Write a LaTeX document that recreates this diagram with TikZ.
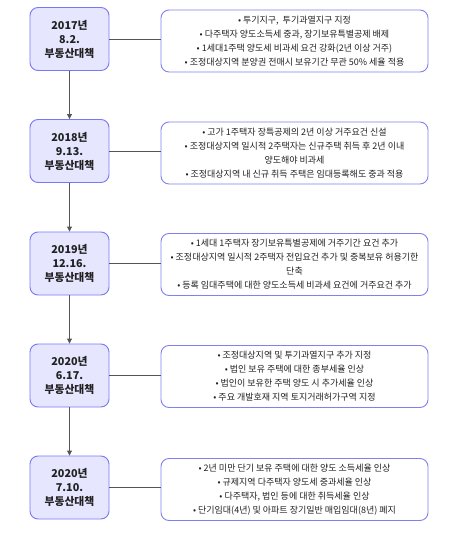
\documentclass[tikz,border=0pt]{standalone}
\usepackage{fontspec}
\setmainfont{Noto Sans CJK KR}
\usetikzlibrary{arrows.meta}
\definecolor{lbfill}{HTML}{E6E6FF}
\definecolor{lbdraw}{HTML}{7878F5}
\definecolor{rbdraw}{HTML}{8080F0}
\definecolor{txt}{HTML}{222222}
\definecolor{ln}{HTML}{555555}
\tikzset{
  yearbox/.style={draw=lbdraw, fill=lbfill, rounded corners=8bp, line width=0.9bp,
    minimum width=79bp, minimum height=63bp, align=center, text=txt,
    font=\fontsize{10.8bp}{14bp}\selectfont\bfseries, inner sep=0pt},
  descbox/.style={draw=rbdraw, fill=white, rounded corners=8bp, line width=0.9bp,
    minimum width=267bp, minimum height=62bp, align=center, text=txt,
    font=\fontsize{9bp}{14bp}\selectfont, inner sep=0pt},
  flow/.style={draw=ln, line width=0.9bp, -{Triangle[length=5bp,width=5bp]}},
  link/.style={draw=ln, line width=0.9bp}
}
\begin{document}
\begin{tikzpicture}[x=1bp,y=-1bp]
\useasboundingbox (0,0) rectangle (455,540);
\node[yearbox] (y1) at (69.5,39) {2017년\\8.2.\\부동산대책};
\node[yearbox] (y2) at (69.5,151) {2018년\\9.13.\\부동산대책};
\node[yearbox] (y3) at (69.5,263.5) {2019년\\12.16.\\부동산대책};
\node[yearbox] (y4) at (69.5,375.5) {2020년\\6.17.\\부동산대책};
\node[yearbox] (y5) at (69.5,487.5) {2020년\\7.10.\\부동산대책};

\node[descbox] (d1) at (294.5,41) {• 투기지구,\ \ 투기과열지구 지정\\• 다주택자 양도소득세 중과,\ 장기보유특별공제 배제\\• 1세대1주택 양도세 비과세 요건 강화(2년 이상 거주)\\• 조정대상지역 분양권 전매시 보유기간 무관 50\% 세율 적용};
\node[descbox] (d2) at (294.5,153) {• 고가 1주택자 장특공제의 2년 이상 거주요건 신설\\• 조정대상지역 일시적 2주택자는 신규주택 취득 후 2년 이내\\양도해야 비과세\\• 조정대상지역 내 신규 취득 주택은 임대등록해도 중과 적용};
\node[descbox] (d3) at (294.5,264.5) {• 1세대 1주택자 장기보유특별공제에 거주기간 요건 추가\\• 조정대상지역 일시적 2주택자 전입요건 추가 및 중복보유 허용기한\\단축\\• 등록 임대주택에 대한 양도소득세 비과세 요건에 거주요건 추가};
\node[descbox] (d4) at (294.5,376.5) {• 조정대상지역 및 투기과열지구 추가 지정\\• 법인 보유 주택에 대한 종부세율 인상\\• 법인이 보유한 주택 양도 시 추가세율 인상\\• 주요 개발호재 지역 토지거래허가구역 지정};
\node[descbox] (d5) at (294.5,489.5) {• 2년 미만 단기 보유 주택에 대한 양도 소득세율 인상\\• 규제지역 다주택자 양도세 중과세율 인상\\• 다주택자,\ 법인 등에 대한 취득세율 인상\\• 단기임대(4년) 및 아파트 장기일반 매입임대(8년) 폐지};

\draw[flow] (y1) -- (y2);
\draw[flow] (y2) -- (y3);
\draw[flow] (y3) -- (y4);
\draw[flow] (y4) -- (y5);
\foreach \i in {1,...,5} {
  \draw[link] (y\i.east) -- (y\i.east -| d\i.west);
}
\end{tikzpicture}
\end{document}
